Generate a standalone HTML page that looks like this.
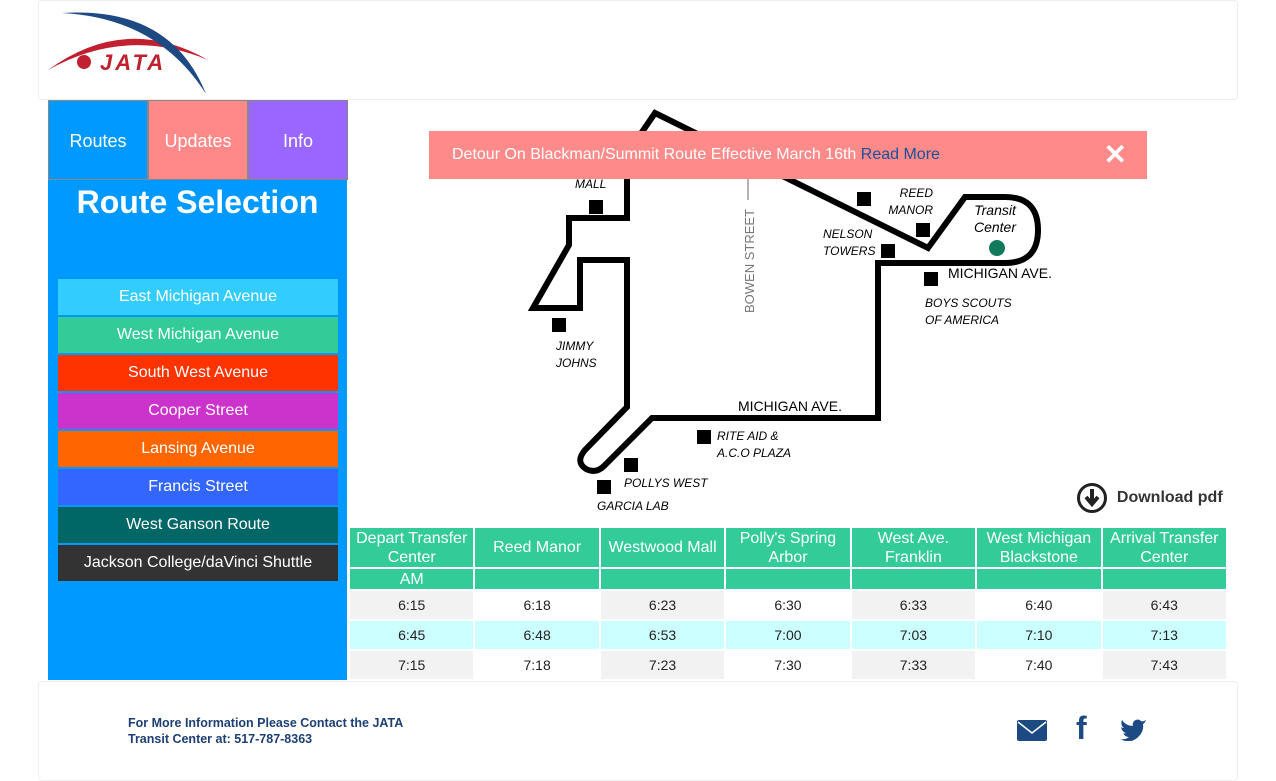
<!DOCTYPE html>
<html><head><meta charset="utf-8"><style>
*{box-sizing:border-box;margin:0;padding:0}
body{width:1276px;height:780px;background:#fff;font-family:"Liberation Sans",sans-serif;position:relative;overflow:hidden}
.abs{position:absolute}
.tab{position:absolute;top:100px;height:80px;width:100px;color:#fff;font-size:18px;text-align:center;line-height:80px;border:1px solid #888}
.rb{position:absolute;left:58px;width:280px;height:36px;color:#fff;font-size:16px;text-align:center;line-height:36px}
.lbl{position:absolute;font-size:12px;font-style:italic;color:#000;line-height:17px}
.sq{position:absolute;width:14px;height:14px;background:#000}
table{position:absolute;left:348px;top:526px;border-collapse:collapse;width:880px;table-layout:fixed}
td,th{border:2px solid #fff;text-align:center;font-size:14px;color:#222;padding:0}
th{background:#33cc99;color:#fff;font-weight:normal;font-size:16px;line-height:19px}
tr.d td{height:30px;line-height:26px}
.g{background:#f2f2f2}.c td{background:#ccffff}
</style></head><body>
<div class="abs" style="left:38px;top:0;width:1200px;height:100px;border:1px solid #eee;border-radius:4px"></div>
<svg class="abs" style="left:46px;top:8px" width="170" height="90">
<path d="M2,62 Q80,5 162,52 Q80,18 2,62Z" fill="#c0202f"/>
<path d="M16,5 Q125,-2 160,86 Q112,10 16,5Z" fill="#1d4a82"/>
<circle cx="38" cy="54" r="7" fill="#c0202f"/>
<text x="54" y="62" font-family="Liberation Sans" font-weight="bold" font-style="italic" font-size="22" fill="#c0202f" letter-spacing="3">JATA</text>
</svg>
<div class="tab" style="left:48px;background:#0099ff">Routes</div>
<div class="tab" style="left:148px;background:#ff8888">Updates</div>
<div class="tab" style="left:248px;background:#9966ff">Info</div>
<div class="abs" style="left:48px;top:180px;width:299px;height:500px;background:#0099ff"></div>
<div class="abs" style="left:48px;top:184px;width:299px;text-align:center;color:#fff;font-weight:bold;font-size:32px">Route Selection</div>
<div class="rb" style="top:279px;background:#33ccff">East Michigan Avenue</div>
<div class="rb" style="top:317px;background:#33cc99">West Michigan Avenue</div>
<div class="rb" style="top:355px;background:#ff3300">South West Avenue</div>
<div class="rb" style="top:393px;background:#cc33cc">Cooper Street</div>
<div class="rb" style="top:431px;background:#ff6600">Lansing Avenue</div>
<div class="rb" style="top:469px;background:#3366ff">Francis Street</div>
<div class="rb" style="top:507px;background:#006666">West Ganson Route</div>
<div class="rb" style="top:545px;background:#333">Jackson College/daVinci Shuttle</div>

<svg class="abs" style="left:0;top:0" width="1276" height="520">
<path d="M627,150 L627,218 L569,218 L569,245 L533,308 L580,308 L580,260 L627,260 L627,407 L585,450 Q575,462 586,469 Q596,474 604,466 L652,418 L878,418 L878,263 L1005,263 Q1038,263 1038,230 Q1038,197 1005,197 L965,197 L928,248 L655,113 L640,135" fill="none" stroke="#000" stroke-width="6" stroke-linejoin="miter"/>
<line x1="748" y1="178" x2="748" y2="200" stroke="#666" stroke-width="1"/>
<text transform="translate(754,313) rotate(-90)" font-size="13" fill="#777" font-family="Liberation Sans">BOWEN STREET</text>
<circle cx="997" cy="248" r="8" fill="#127a5c"/>
</svg>
<div class="sq" style="left:589px;top:200px"></div>
<div class="sq" style="left:552px;top:318px"></div>
<div class="sq" style="left:697px;top:430px"></div>
<div class="sq" style="left:624px;top:458px"></div>
<div class="sq" style="left:597px;top:480px"></div>
<div class="sq" style="left:857px;top:192px"></div>
<div class="sq" style="left:916px;top:223px"></div>
<div class="sq" style="left:881px;top:244px"></div>
<div class="sq" style="left:924px;top:272px"></div>
<div class="lbl" style="left:575px;top:176px">MALL</div>
<div class="lbl" style="left:556px;top:338px">JIMMY<br>JOHNS</div>
<div class="lbl" style="left:717px;top:428px">RITE AID &amp;<br>A.C.O PLAZA</div>
<div class="lbl" style="left:624px;top:475px">POLLYS WEST</div>
<div class="lbl" style="left:597px;top:498px">GARCIA LAB</div>
<div class="lbl" style="left:888px;top:185px;text-align:right;width:45px">REED<br>MANOR</div>
<div class="lbl" style="left:823px;top:226px">NELSON<br>TOWERS</div>
<div class="lbl" style="left:925px;top:295px">BOYS SCOUTS<br>OF AMERICA</div>
<div class="lbl" style="left:966px;top:202px;font-size:14px;text-align:center;width:58px">Transit<br>Center</div>
<div class="abs" style="left:948px;top:265px;font-size:14px">MICHIGAN AVE.</div>
<div class="abs" style="left:738px;top:398px;font-size:14px">MICHIGAN AVE.</div>

<div class="abs" style="left:429px;top:131px;width:718px;height:48px;background:#ff8a8a;color:#fff;font-size:16px;line-height:48px;padding-left:23px">Detour On Blackman/Summit Route Effective March 16th <span style="color:#1a4f9a">Read More</span>
<span style="position:absolute;right:20px;top:0;font-size:28px;font-weight:bold">✕</span></div>

<div class="abs" style="left:1076px;top:482px;height:32px;font-size:16px;font-weight:bold;color:#333;line-height:32px">
<svg width="32" height="32" style="vertical-align:middle"><circle cx="16" cy="16" r="13.5" fill="none" stroke="#222" stroke-width="3"/><path d="M16,7 V20 M10,15 L16,22 L22,15" stroke="#222" stroke-width="4" fill="none"/></svg>&nbsp; Download pdf</div>

<table>
<tr style="height:41px"><th>Depart Transfer Center</th><th>Reed Manor</th><th>Westwood Mall</th><th>Polly's Spring Arbor</th><th>West Ave. Franklin</th><th>West Michigan Blackstone</th><th>Arrival Transfer Center</th></tr>
<tr style="height:22px"><th>AM</th><th></th><th></th><th></th><th></th><th></th><th></th></tr>
<tr class="d"><td class="g">6:15</td><td>6:18</td><td class="g">6:23</td><td>6:30</td><td class="g">6:33</td><td>6:40</td><td class="g">6:43</td></tr>
<tr class="d c"><td>6:45</td><td>6:48</td><td>6:53</td><td>7:00</td><td>7:03</td><td>7:10</td><td>7:13</td></tr>
<tr class="d"><td class="g">7:15</td><td>7:18</td><td class="g">7:23</td><td>7:30</td><td class="g">7:33</td><td>7:40</td><td class="g">7:43</td></tr>
</table>

<div class="abs" style="left:38px;top:681px;width:1200px;height:100px;border:1px solid #eee;border-radius:4px;background:#fff"></div>
<div class="abs" style="left:128px;top:715px;font-size:12.5px;font-weight:bold;color:#1d3f73;line-height:16px">For More Information Please Contact the JATA<br>Transit Center at: 517-787-8363</div>
<svg class="abs" style="left:1017px;top:718px" width="30" height="24"><rect x="0" y="2" width="30" height="21" rx="2" fill="#1d4a82"/><path d="M1,4 L15,15 L29,4" stroke="#fff" stroke-width="1.5" fill="none"/></svg>
<div class="abs" style="left:1076px;top:710px;font-size:32px;font-weight:bold;color:#1d4a82;font-family:'Liberation Sans'">f</div>
<svg class="abs" style="left:1120px;top:717px" width="27" height="24"><path d="M26,3 Q23,5 21,4 Q18,1 14,4 Q12,7 13,9 Q6,9 2,3 Q0,8 4,11 Q2,11 1,10 Q2,15 6,16 Q4,17 3,16 Q5,20 9,20 Q5,23 0,22 Q12,28 20,18 Q24,13 23,7 Q25,6 26,3Z" fill="#1d4a82"/></svg>
</body></html>
